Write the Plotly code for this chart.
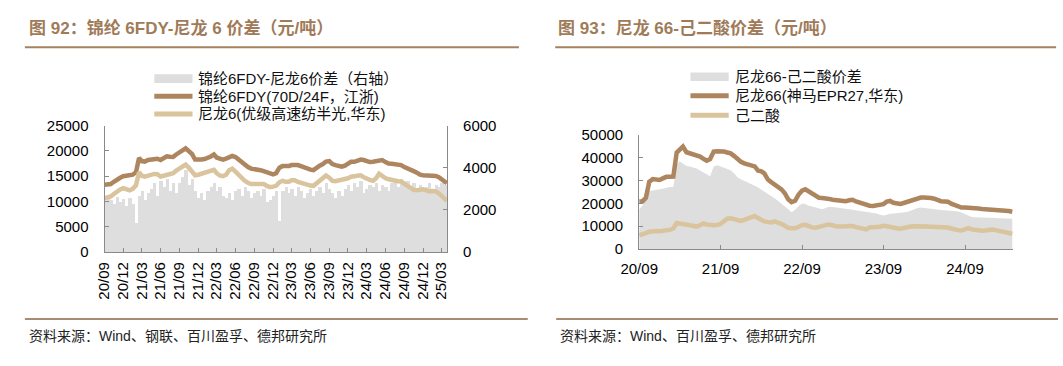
import plotly.graph_objects as go

W, H = 1063, 366

# ---------------- data: left chart (semi-monthly, 2020-09 .. 2025-03) ----------------
left_dates = [f"{2020 + (8 + m // 2) // 12}-{(8 + m // 2) % 12 + 1:02d}-{1 if m % 2 == 0 else 16:02d}"
              for m in range(110)] + ["2025-03-27"]

fdy_70d = [13300, 13350, 13450, 13900, 14400, 14700, 15000, 15100, 15100, 15300,
           15800, 18600, 18000, 17900, 18200, 18300, 18400, 18450, 18200, 18700,
           18950, 18850, 18800, 19300, 19600, 20100, 20500, 20000, 19400, 18300,
           18200, 18300, 18400, 18600, 18900, 19300, 18700, 18500, 18300, 18500,
           18700, 19000, 18800, 18300, 17700, 17200, 16800, 16500, 16450, 16400,
           16200, 16000, 15700, 15450, 15350, 15600, 16700, 17000, 16900, 17000,
           17200, 17250, 17200, 17000, 16700, 16500, 16300, 16200, 16700, 17100,
           17400, 17900, 18000, 17400, 17200, 16950, 16900, 17100, 17500, 17850,
           17850, 18000, 18300, 18200, 17900, 17800, 17850, 17950, 18200, 18200,
           17800, 17500, 17450, 17400, 17300, 17200, 16800, 16450, 16200, 16000,
           15700, 15300, 15200, 15150, 15150, 15200, 15050, 14800, 14400, 13900,
           13600]

pa6_chip = [10650, 10800, 11000, 11500, 12000, 12400, 12650, 12400, 12200, 12500,
            13200, 15800, 15100, 14900, 15100, 15200, 15450, 15400, 14950, 15100,
            15250, 15400, 15600, 16100, 16500, 16900, 17300, 16700, 15900, 15200,
            15300, 15500, 15700, 16000, 16150, 16250, 15600, 15150, 15000, 15300,
            16200, 16500, 15900, 15300, 14600, 14100, 13700, 13450, 13480, 13480,
            13480, 13450, 13100, 12850, 12950, 13100, 13800, 14100, 13900, 13900,
            14200, 14200, 13900, 13700, 13400, 13250, 13150, 13100, 13600, 14200,
            14700, 15150, 14700, 14100, 14000, 14100, 14250, 14400, 14600, 14900,
            15000, 15100, 15170, 14800, 14500, 14300, 14100, 14600, 15500, 15000,
            14600, 14400, 14200, 14100, 14000, 13950, 13500, 13000, 12700, 12300,
            12250, 12350, 12400, 12200, 12000, 12100, 12000, 11600, 11100, 10700,
            10150]

fdy_spread = [2450, 2600, 2500, 2300, 2650, 2400, 2550, 2200, 2600, 2300,
              1400, 2700, 2900, 2500, 2800, 3000, 3300, 2700, 3400, 3100,
              3500, 2900, 3300, 2800, 3300, 3600, 3900, 3200, 3500, 2900,
              2600, 2800, 2500, 2900, 3100, 3300, 2900, 3100, 2700, 2600,
              2800, 2500, 2900, 3000, 2700, 3100, 2900, 2600, 2800, 2900,
              2700, 3000, 2400, 2500, 2700, 2900, 1500, 2900, 3100, 2800,
              3000, 2700, 3100, 2900, 2600, 2800, 3000, 2700, 2900, 3100,
              2800, 3300, 3000, 2800, 2600, 2900, 2700, 3000, 3200, 2900,
              3300, 3100, 3400, 2800, 3000, 3200, 3100, 3300, 2900, 3200,
              3100, 2900, 3300, 3400, 3100, 3500, 3200, 3400, 3100, 3300,
              3000, 3200, 2900, 3100, 3300, 3000, 3200, 3100, 3300, 3200,
              3200]

# ---------------- data: right chart (semi-monthly, 2020-09 .. 2025-04) ----------------
right_dates = [f"{2020 + (8 + m // 2) // 12}-{(8 + m // 2) % 12 + 1:02d}-{1 if m % 2 == 0 else 16:02d}"
               for m in range(111)]

pa66 = [20900, 21000, 22500, 29500, 30700, 30400, 30300, 31000, 31700, 31700,
        31800, 42300, 43800, 45000, 42500, 42000, 41800, 41500, 40600, 39600,
        38800, 39500, 42800, 42900, 42900, 42800, 42400, 42000, 40800, 39400,
        38300, 37600, 37300, 37000, 36300, 34400, 34200, 33200, 30500, 29400,
        28500, 27400, 26200, 24500, 21800, 20600, 21200, 23800, 25600, 26200,
        25300, 24300, 23400, 22500, 22400, 22400, 22000, 21650, 21500, 21300,
        21100, 21000, 21400, 21600, 20900, 20400, 19900, 19400, 19000, 18900,
        19300, 19500, 19700, 20800, 21100, 20300, 19900, 19800, 20200, 20700,
        21000, 21300, 22200, 22600, 22600, 22600, 22400, 22100, 21400, 21000,
        20900, 20800, 19900, 19200, 18500, 18200, 18200, 18200, 18100, 17900,
        17800, 17600, 17500, 17450, 17450, 17460, 17450, 17200, 16900, 16700,
        16400]

adipic = [6000, 6300, 7000, 7600, 7900, 7900, 7800, 7900, 8200, 8400,
          9000, 11400, 11200, 10800, 10600, 10400, 10200, 9800, 10400, 11200,
          10800, 10500, 10400, 10600, 11000, 12200, 13300, 13500, 13200, 12500,
          12300, 12800, 13400, 14300, 14500, 13600, 12700, 12100, 11800, 11700,
          12100, 11800, 11000, 10200, 9300, 9100, 9100, 9700, 10500, 10600,
          9900, 9500, 9300, 9800, 10200, 10500, 10770, 10300, 10000, 9900,
          9800, 10000, 10100, 10100, 9600, 9200, 8600, 8600, 9500, 9800,
          9650, 9800, 10200, 10000, 9600, 9400, 9100, 8900, 9300, 9700,
          9900, 10000, 10100, 10100, 10000, 9900, 9800, 9770, 9770, 9750,
          9600, 9400, 9000, 8500, 8300, 8100, 8500, 9200, 8600, 8300,
          8200, 8000, 8100, 8400, 8600, 8300, 7900, 7700, 7400, 7000,
          6700]

pa66_spread = [17500, 19000, 22500, 25500, 25700, 25800, 26200, 26500, 27000, 27200,
               27200, 37000, 38500, 37500, 36500, 36200, 35800, 35300, 34500, 33600,
               32500, 31900, 36200, 36800, 36200, 35700, 35200, 34600, 33200, 31400,
               30600, 30000, 29300, 28600, 27800, 27000, 26000, 25200, 24200, 23400,
               22300, 21200, 20000, 19000, 17500, 16100, 17200, 18800, 20000, 19800,
               19000, 18700, 18300, 17900, 17500, 18000, 18600, 18500, 18300, 18200,
               18170, 17800, 17500, 17200, 17000, 16800, 16600, 16400, 16200, 16100,
               15600, 15000, 14700, 15000, 15500, 15600, 15800, 15900, 16000, 16200,
               16800, 17400, 18000, 18200, 18000, 17700, 17500, 17400, 17200, 17100,
               17000, 16900, 16800, 16700, 16500, 16000, 15300, 14600, 14100, 13900,
               13900, 13800, 13800, 13700, 13700, 13600, 13500, 13400, 13300, 13300,
               13280]

left_names = ["锦纶6FDY-尼龙6价差（右轴）", "锦纶6FDY(70D/24F，江浙)", "尼龙6(优级高速纺半光,华东)"]
right_names = ["尼龙66-己二酸价差", "尼龙66(神马EPR27,华东)", "己二酸"]
titles = ["图 92：锦纶 6FDY-尼龙 6 价差（元/吨）", "图 93：尼龙 66-己二酸价差（元/吨）"]
sources = ["资料来源：Wind、钢联、百川盈孚、德邦研究所", "资料来源：Wind、百川盈孚、德邦研究所"]

# ---------------- styles ----------------
GREY = "#dedede"
BROWN = "#ad8660"
TAN = "#d9c49d"
TITLE_C = "#9f7b59"
AXIS_C = "#8a8a8a"
FONT = "Liberation Sans, Arial, Noto Sans CJK SC, sans-serif"
BAR_W_MS = 16 * 24 * 3600 * 1000


def px(x):
    return x / W


def py(y):
    return 1 - y / H


fig = go.Figure()

# left chart
fig.add_trace(go.Bar(x=left_dates, y=fdy_spread, name=left_names[0], marker_color=GREY,
                     marker_line_width=0, width=BAR_W_MS, xaxis="x", yaxis="y", showlegend=False))
fig.add_trace(go.Scatter(x=left_dates, y=fdy_70d, name=left_names[1], mode="lines",
                         line=dict(color=BROWN, width=4.5), xaxis="x", yaxis="y2", showlegend=False))
fig.add_trace(go.Scatter(x=left_dates, y=pa6_chip, name=left_names[2], mode="lines",
                         line=dict(color=TAN, width=4.5), xaxis="x", yaxis="y2", showlegend=False))

# right chart
fig.add_trace(go.Scatter(x=right_dates, y=pa66_spread, name=right_names[0], mode="lines",
                         fill="tozeroy", fillcolor=GREY, line=dict(width=0, color=GREY),
                         xaxis="x2", yaxis="y3", showlegend=False))
fig.add_trace(go.Scatter(x=right_dates, y=pa66, name=right_names[1], mode="lines",
                         line=dict(color=BROWN, width=4.5), xaxis="x2", yaxis="y3", showlegend=False))
fig.add_trace(go.Scatter(x=right_dates, y=adipic, name=right_names[2], mode="lines",
                         line=dict(color=TAN, width=4.5), xaxis="x2", yaxis="y3", showlegend=False))

tickfont = dict(family=FONT, size=15, color="#000")
common_ax = dict(showgrid=False, zeroline=False, showline=True, linecolor=AXIS_C, linewidth=1,
                 ticks="inside", ticklen=4, tickcolor=AXIS_C, tickfont=tickfont)

fig.update_layout(
    width=W, height=H, margin=dict(l=0, r=0, t=0, b=0),
    paper_bgcolor="white", plot_bgcolor="white",
    bargap=0, showlegend=False,
    xaxis=dict(domain=[px(87.3), px(436.7)], anchor="y", type="date",
               range=["2020-09-01", "2025-03-28"], tick0="2020-09-01", dtick="M3",
               tickformat="%y/%m", tickangle=-90, ticklabelstandoff=3, **common_ax),
    yaxis=dict(domain=[py(255), py(122.3)], anchor="x", side="right", range=[0, 6000],
               dtick=2000, tickformat="d", ticklabelstandoff=12, **common_ax),
    yaxis2=dict(overlaying="y", anchor="x", side="left", range=[0, 25000],
                dtick=5000, tickformat="d", ticklabelstandoff=12, **common_ax),
    xaxis2=dict(domain=[px(632.7), px(1014)], anchor="y3", type="date",
                range=["2020-09-01", "2025-04-04"], tick0="2020-09-01", dtick="M12",
                tickformat="%y/%m", ticklabelstandoff=6, **common_ax),
    yaxis3=dict(domain=[py(251.7), py(132.3)], anchor="x2", range=[0, 50000],
                dtick=10000, tickformat="d", ticklabelstandoff=12, **common_ax),
)

shapes = []
annotations = []

# titles and rules
for tx, (x0, x1), t in [(8, (6, 510), titles[0]), (548, (547, 1058), titles[1])]:
    annotations.append(dict(x=px(tx), y=py(20), xref="paper", yref="paper", xanchor="left",
                            yanchor="middle", showarrow=False, text=f"<b>{t}</b>",
                            font=dict(family=FONT, size=17, color=TITLE_C)))
    shapes.append(dict(type="line", xref="paper", yref="paper", x0=px(x0), x1=px(x1),
                       y0=py(40), y1=py(40), line=dict(color="#a5825f", width=2)))

for (x0, x1), s in [((6, 519), sources[0]), ((548, 1060), sources[1])]:
    shapes.append(dict(type="line", xref="paper", yref="paper", x0=px(x0), x1=px(x1),
                       y0=py(325), y1=py(325), line=dict(color="#a88c70", width=2)))
    annotations.append(dict(x=px(x0 + 2), y=py(343), xref="paper", yref="paper", xanchor="left",
                            yanchor="middle", showarrow=False, text=s,
                            font=dict(family=FONT, size=14, color="#222")))


# manual legends
def legend(x0, x1, ys, names):
    kinds = [("rect", GREY), ("line", BROWN), ("line", TAN)]
    for (kind, col), yy, nm in zip(kinds, ys, names):
        if kind == "rect":
            shapes.append(dict(type="rect", xref="paper", yref="paper", x0=px(x0), x1=px(x1),
                               y0=py(yy + 4.5), y1=py(yy - 4.5), fillcolor=col, line=dict(width=0)))
        else:
            shapes.append(dict(type="line", xref="paper", yref="paper", x0=px(x0), x1=px(x1),
                               y0=py(yy), y1=py(yy), line=dict(color=col, width=5)))
        annotations.append(dict(x=px(x1 + 4), y=py(yy), xref="paper", yref="paper", xanchor="left",
                                yanchor="middle", showarrow=False, text=nm,
                                font=dict(family=FONT, size=15, color="#111")))


legend(138, 177, [73, 91.5, 110], left_names)
legend(685, 724, [71, 91, 111.5], right_names)

fig.update_layout(shapes=shapes, annotations=annotations)
fig.write_html("out.html", config={"displayModeBar": False},
               post_script="document.body.style.margin='0';document.body.style.overflow='hidden';")
